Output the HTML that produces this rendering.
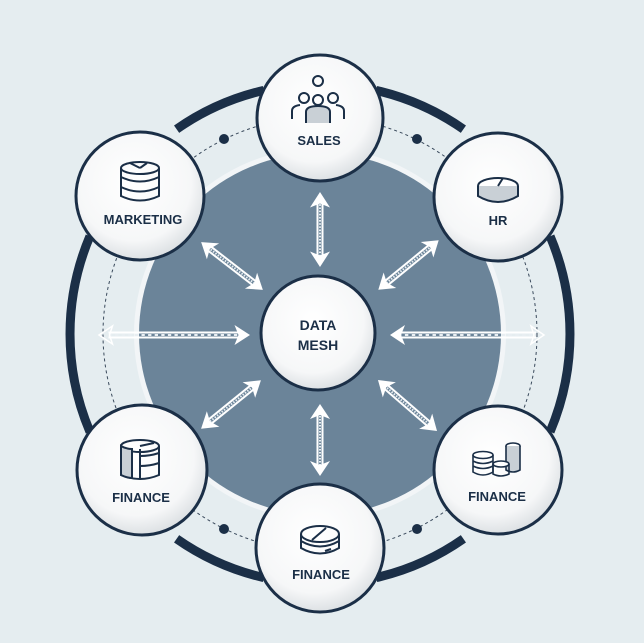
<!DOCTYPE html>
<html><head><meta charset="utf-8"><style>
html,body{margin:0;padding:0;background:#e5edf0;}
svg{display:block}
text{font-family:"Liberation Sans",sans-serif;font-weight:bold;fill:#1b2f47;text-anchor:middle}
</style></head><body>
<svg width="644" height="643" viewBox="0 0 644 643" xmlns="http://www.w3.org/2000/svg">
<defs>
<radialGradient id="ng" cx="45%" cy="40%" r="60%">
<stop offset="0" stop-color="#ffffff"/><stop offset="0.75" stop-color="#f6f7f8"/><stop offset="1" stop-color="#dde1e4"/>
</radialGradient>
<g id="arr">
<line x1="-30" y1="-2.5" x2="30" y2="-2.5" stroke="#fff" stroke-width="2"/>
<line x1="-30" y1="2.5" x2="30" y2="2.5" stroke="#fff" stroke-width="2"/>
<line x1="-30" y1="0" x2="30" y2="0" stroke="#e8eef2" stroke-width="2" stroke-dasharray="1.5 1.5"/>
</g>
</defs>
<rect width="644" height="643" fill="#e5edf0"/>
<!-- main fill -->
<circle cx="320" cy="334" r="186" fill="#f2f5f7"/>
<circle cx="320" cy="334" r="181" fill="#6b8499"/>
<!-- dashed ring -->
<circle cx="320" cy="334" r="217" fill="none" stroke="#3a4a5c" stroke-width="1" stroke-dasharray="3 3"/>
<circle cx="224" cy="139" r="5" fill="#1b2f47"/>
<circle cx="417" cy="139" r="5" fill="#1b2f47"/>
<circle cx="224" cy="529" r="5" fill="#1b2f47"/>
<circle cx="417" cy="529" r="5" fill="#1b2f47"/>
<!-- thick arcs r=250 -->
<g fill="none" stroke="#1b2f47" stroke-width="9" stroke-linecap="butt">
<path d="M176.6,129.2 A250,250 0 0 1 263.8,90.4"/>
<path d="M376.2,90.4 A250,250 0 0 1 463.4,129.2"/>
<path d="M550.1,236.3 A250,250 0 0 1 550.1,431.7"/>
<path d="M463.4,538.8 A250,250 0 0 1 376.2,577.6"/>
<path d="M263.8,577.6 A250,250 0 0 1 176.6,538.8"/>
<path d="M89.9,431.7 A250,250 0 0 1 89.9,236.3"/>
</g>
<!-- arrows -->
<g id="arrows">
<g transform="translate(320,229.5) rotate(90)"><use href="#arr" transform="scale(1.05,1)"/><polygon points="37.5,0 22,-10 26,0 22,10" fill="#fff"/><polygon points="-37.5,0 -22,-10 -26,0 -22,10" fill="#fff"/></g>
<g transform="translate(320,440) rotate(90)"><use href="#arr"/><polygon points="36,0 21,-10 25,0 21,10" fill="#fff"/><polygon points="-36,0 -21,-10 -25,0 -21,10" fill="#fff"/></g>
<g transform="translate(174.5,335)"><use href="#arr" transform="scale(2.2,1)"/><polygon points="75.5,0 60,-10 64,0 60,10" fill="#fff"/><polygon points="-75.5,0 -62,-9 -65,0 -62,9" fill="none" stroke="#fff" stroke-width="1.5"/></g>
<g transform="translate(467,335)"><use href="#arr" transform="scale(2.3,1)"/><polygon points="-77,0 -62,-10 -66,0 -62,10" fill="#fff"/><polygon points="77,0 64,-9 67,0 64,9" fill="none" stroke="#fff" stroke-width="1.5"/></g>
<g transform="translate(232,266) rotate(37.7)"><use href="#arr"/><polygon points="39,0 24,-10 28,0 24,10" fill="#fff"/><polygon points="-39,0 -24,-10 -28,0 -24,10" fill="#fff"/></g>
<g transform="translate(408.5,265) rotate(140.7)"><use href="#arr"/><polygon points="39,0 24,-10 28,0 24,10" fill="#fff"/><polygon points="-39,0 -24,-10 -28,0 -24,10" fill="#fff"/></g>
<g transform="translate(231,404.5) rotate(-39)"><use href="#arr"/><polygon points="38.5,0 23,-10 27,0 23,10" fill="#fff"/><polygon points="-38.5,0 -23,-10 -27,0 -23,10" fill="#fff"/></g>
<g transform="translate(407.5,405.5) rotate(40.8)"><use href="#arr"/><polygon points="39,0 24,-10 28,0 24,10" fill="#fff"/><polygon points="-39,0 -24,-10 -28,0 -24,10" fill="#fff"/></g>
</g>
<!-- nodes -->
<g stroke="#1b2f47" stroke-width="3" fill="url(#ng)">
<circle cx="318" cy="333" r="57"/>
<circle cx="320" cy="118" r="63"/>
<circle cx="140" cy="196" r="64"/>
<circle cx="498" cy="197" r="64"/>
<circle cx="142" cy="470" r="65"/>
<circle cx="498" cy="470" r="64"/>
<circle cx="320" cy="548" r="64"/>
</g>
<!-- labels -->
<text x="318" y="330" font-size="14">DATA</text>
<text x="318" y="350" font-size="14">MESH</text>
<text x="319" y="145" font-size="13">SALES</text>
<text x="143" y="224" font-size="13">MARKETING</text>
<text x="498" y="225" font-size="13">HR</text>
<text x="141" y="502" font-size="13">FINANCE</text>
<text x="497" y="501" font-size="13">FINANCE</text>
<text x="321" y="579" font-size="13">FINANCE</text>
<!-- icons -->
<g fill="none" stroke="#1b2f47" stroke-width="2">
<!-- sales people -->
<circle cx="318" cy="81" r="5"/>
<circle cx="304" cy="98" r="5"/><circle cx="333" cy="98" r="5"/><circle cx="318" cy="100" r="5"/>
<path d="M292,119 v-8 q0,-5 8,-6 M344,119 v-8 q0,-5 -8,-6"/>
<path d="M306,123 v-11 q0,-6 12,-6 q12,0 12,6 v11" fill="#c9d0d6"/>
<!-- marketing db -->
<ellipse cx="140" cy="168" rx="19" ry="6"/>
<path d="M121,168 v28 q19,9 38,0 v-28 M121,177 q19,9 38,0 M121,187 q19,9 38,0"/>
<path d="M140,168 l7,-5 M140,168 l-10,-5"/>
<!-- HR -->
<ellipse cx="498" cy="186" rx="20" ry="8" fill="#fff"/>
<path d="M478,186 v10 q20,12 40,0 v-10" fill="#c9d0d6"/>
<path d="M498,186 l5,-8"/>
<!-- finance left -->
<ellipse cx="140" cy="446" rx="19" ry="6"/>
<path d="M121,446 v29 q19,8 38,0 v-29" />
<path d="M121,446 v29 q6,3 11,3 v-29 q-6,0 -11,-3z" fill="#c9d0d6"/>
<path d="M132,449 v29 M140,456 q10,0 19,-3 M140,466 q10,0 19,-3 M140,449 v29 M140,446 l14,-3"/>
<!-- finance right coins -->
<g stroke-width="1.6">
<ellipse cx="483" cy="455" rx="10" ry="3.5" fill="#fff"/>
<path d="M473,455 v17 q10,6 20,0 v-17 M473,461 q10,5 20,0 M473,466 q10,5 20,0"/>
<ellipse cx="513" cy="446" rx="7" ry="3" fill="#fff"/>
<path d="M506,446 v24 q7,4 14,0 v-24" fill="#c9d0d6"/>
<ellipse cx="501" cy="464" rx="8" ry="3" fill="#fff"/>
<path d="M493,464 v10 q8,4 16,0 v-10"/>
</g>
<!-- finance bottom -->
<ellipse cx="320" cy="534" rx="19" ry="8"/>
<path d="M301,534 v14 q19,11 38,0 v-14 M301,541 q19,11 38,0"/>
<path d="M312,540 l14,-12 M325,551 l6,-2"/>
</g>
</svg>
</body></html>
